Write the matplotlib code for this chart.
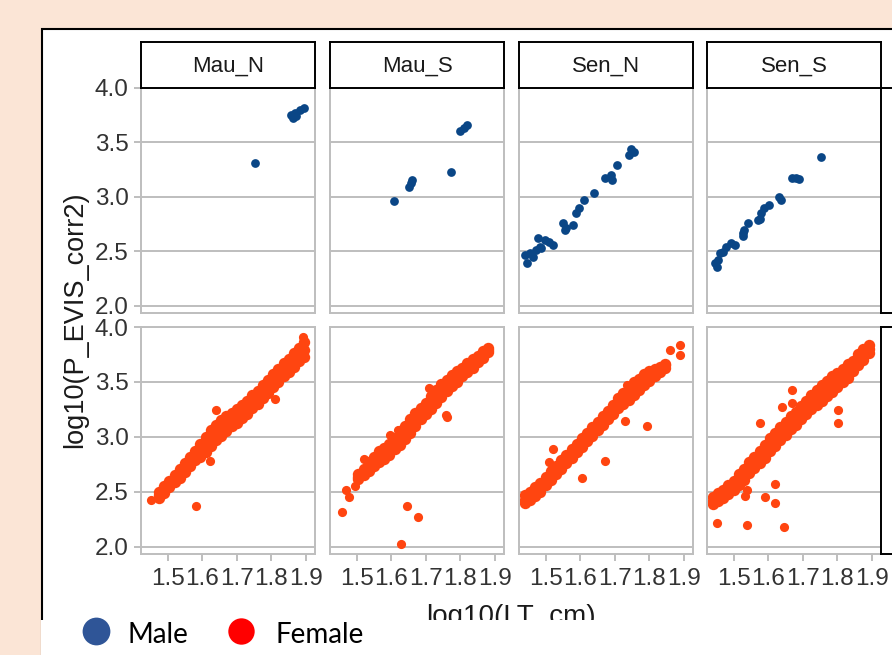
import matplotlib
matplotlib.use('Agg')
import matplotlib.pyplot as plt
from matplotlib.patches import Rectangle
from matplotlib.lines import Line2D

# facet labels
sites = ['Mau_N', 'Mau_S', 'Sen_N', 'Sen_S']
sexes = ['Male', 'Female']
x_ticks = [1.5, 1.6, 1.7, 1.8, 1.9]
y_ticks = [2.0, 2.5, 3.0, 3.5, 4.0]

# ---- males (few fish, read point by point) ----
male_mau_n_x = [1.753, 1.858, 1.863, 1.868, 1.872, 1.882, 1.894]
male_mau_n_y = [3.309, 3.752, 3.722, 3.768, 3.740, 3.798, 3.819]

male_mau_s_x = [1.609, 1.651, 1.656, 1.661, 1.773, 1.799, 1.809, 1.818]
male_mau_s_y = [2.963, 3.094, 3.125, 3.156, 3.232, 3.605, 3.636, 3.660]

male_sen_n_x = [1.447, 1.440, 1.454, 1.464, 1.473, 1.483, 1.478, 1.497, 1.488, 1.521, 1.511, 1.549, 1.559,
                1.578, 1.555, 1.588, 1.597, 1.611, 1.640, 1.673, 1.688, 1.692, 1.707, 1.740, 1.754, 1.748]
male_sen_n_y = [2.392, 2.468, 2.483, 2.452, 2.514, 2.544, 2.621, 2.606, 2.530, 2.560, 2.590, 2.759, 2.713,
                2.743, 2.700, 2.850, 2.896, 2.972, 3.034, 3.171, 3.202, 3.156, 3.294, 3.385, 3.416, 3.437]

male_sen_s_x = [1.451, 1.446, 1.455, 1.460, 1.469, 1.479, 1.493, 1.503, 1.527, 1.531, 1.541, 1.527,
                1.569, 1.579, 1.589, 1.603, 1.631, 1.636, 1.669, 1.689, 1.753, 1.575, 1.680]
male_sen_s_y = [2.361, 2.392, 2.422, 2.483, 2.498, 2.544, 2.575, 2.560, 2.667, 2.697, 2.759, 2.640,
                2.789, 2.850, 2.896, 2.927, 3.003, 2.972, 3.171, 3.162, 3.370, 2.800, 3.170]

# ---- females: dense band read as lower edge / middle / upper edge, plus stray fish ----
fem_mau_n_x = [1.475, 1.49, 1.505, 1.52, 1.535, 1.55, 1.565, 1.58, 1.595, 1.61, 1.625, 1.64, 1.655, 1.67, 1.685,
               1.70, 1.715, 1.73, 1.745, 1.76, 1.775, 1.79, 1.805, 1.82, 1.835, 1.85, 1.865, 1.88, 1.895]
fem_mau_n_lo = [2.44, 2.49, 2.54, 2.59, 2.63, 2.68, 2.74, 2.79, 2.82, 2.86, 2.92, 2.97, 3.01, 3.05, 3.10,
                3.13, 3.17, 3.21, 3.26, 3.30, 3.35, 3.40, 3.45, 3.50, 3.55, 3.59, 3.64, 3.69, 3.73]
fem_mau_n_mid = [2.47, 2.52, 2.57, 2.62, 2.67, 2.72, 2.78, 2.83, 2.88, 2.93, 2.99, 3.04, 3.08, 3.12, 3.16,
                 3.19, 3.23, 3.27, 3.32, 3.36, 3.41, 3.46, 3.51, 3.56, 3.61, 3.65, 3.70, 3.75, 3.79]
fem_mau_n_hi = [2.50, 2.55, 2.60, 2.65, 2.71, 2.76, 2.82, 2.87, 2.94, 3.00, 3.06, 3.11, 3.15, 3.19, 3.22,
                3.25, 3.29, 3.33, 3.38, 3.42, 3.47, 3.52, 3.57, 3.62, 3.67, 3.71, 3.76, 3.81, 3.86]
fem_mau_n_out_x = [1.451, 1.583, 1.640, 1.809, 1.623, 1.890]
fem_mau_n_out_y = [2.428, 2.373, 3.248, 3.346, 2.780, 3.910]

fem_mau_s_x = [1.505, 1.52, 1.535, 1.55, 1.565, 1.58, 1.595, 1.61, 1.625, 1.64, 1.655, 1.67, 1.685,
               1.70, 1.715, 1.73, 1.745, 1.76, 1.775, 1.79, 1.805, 1.82, 1.835, 1.85, 1.865, 1.88]
fem_mau_s_lo = [2.62, 2.65, 2.69, 2.74, 2.77, 2.80, 2.84, 2.89, 2.93, 2.98, 3.04, 3.10, 3.16,
                3.21, 3.25, 3.31, 3.36, 3.42, 3.46, 3.50, 3.55, 3.59, 3.63, 3.68, 3.72, 3.77]
fem_mau_s_mid = [2.64, 2.68, 2.73, 2.78, 2.82, 2.85, 2.89, 2.94, 2.99, 3.04, 3.10, 3.16, 3.21,
                 3.26, 3.31, 3.37, 3.42, 3.47, 3.51, 3.55, 3.59, 3.63, 3.67, 3.71, 3.75, 3.79]
fem_mau_s_hi = [2.66, 2.71, 2.77, 2.82, 2.87, 2.90, 2.94, 2.99, 3.05, 3.10, 3.16, 3.22, 3.26,
                3.31, 3.37, 3.43, 3.48, 3.52, 3.56, 3.60, 3.63, 3.67, 3.71, 3.74, 3.78, 3.81]
fem_mau_s_out_x = [1.458, 1.468, 1.477, 1.496, 1.520, 1.596, 1.647, 1.677, 1.628, 1.709, 1.758, 1.761, 1.620]
fem_mau_s_out_y = [2.321, 2.520, 2.453, 2.550, 2.800, 3.015, 2.373, 2.275, 2.024, 3.446, 3.199, 3.177, 3.061]

fem_sen_n_x = [1.44, 1.455, 1.47, 1.485, 1.50, 1.515, 1.53, 1.545, 1.56, 1.575, 1.59, 1.605, 1.62, 1.635,
               1.65, 1.665, 1.68, 1.695, 1.71, 1.725, 1.74, 1.755, 1.77, 1.785, 1.80, 1.815, 1.83, 1.845]
fem_sen_n_lo = [2.40, 2.43, 2.46, 2.50, 2.56, 2.61, 2.66, 2.71, 2.76, 2.81, 2.86, 2.91, 2.96, 3.01,
                3.06, 3.11, 3.16, 3.21, 3.26, 3.30, 3.34, 3.38, 3.43, 3.47, 3.51, 3.55, 3.59, 3.63]
fem_sen_n_mid = [2.43, 2.46, 2.50, 2.54, 2.60, 2.65, 2.70, 2.75, 2.80, 2.85, 2.90, 2.95, 3.00, 3.05,
                 3.10, 3.15, 3.20, 3.25, 3.30, 3.35, 3.39, 3.44, 3.48, 3.52, 3.56, 3.59, 3.62, 3.65]
fem_sen_n_hi = [2.47, 2.50, 2.54, 2.58, 2.64, 2.69, 2.74, 2.79, 2.84, 2.89, 2.94, 2.99, 3.04, 3.09,
                3.14, 3.19, 3.24, 3.29, 3.35, 3.40, 3.45, 3.50, 3.53, 3.57, 3.60, 3.62, 3.64, 3.66]
fem_sen_n_out_x = [1.520, 1.510, 1.604, 1.672, 1.730, 1.793, 1.860, 1.887, 1.887, 1.734]
fem_sen_n_out_y = [2.887, 2.770, 2.627, 2.780, 3.147, 3.095, 3.789, 3.835, 3.743, 3.468]

fem_sen_s_x = [1.44, 1.455, 1.47, 1.485, 1.50, 1.515, 1.53, 1.545, 1.56, 1.575, 1.59, 1.605, 1.62, 1.635, 1.65,
               1.665, 1.68, 1.695, 1.71, 1.725, 1.74, 1.755, 1.77, 1.785, 1.80, 1.815, 1.83, 1.845, 1.86, 1.875, 1.89]
fem_sen_s_lo = [2.39, 2.42, 2.44, 2.48, 2.52, 2.56, 2.61, 2.67, 2.72, 2.76, 2.81, 2.87, 2.92, 2.97, 3.02,
                3.07, 3.11, 3.16, 3.21, 3.25, 3.29, 3.33, 3.37, 3.41, 3.45, 3.50, 3.54, 3.60, 3.65, 3.70, 3.76]
fem_sen_s_mid = [2.42, 2.45, 2.48, 2.52, 2.56, 2.61, 2.66, 2.72, 2.77, 2.81, 2.87, 2.93, 2.98, 3.03, 3.08,
                 3.13, 3.17, 3.22, 3.27, 3.31, 3.36, 3.40, 3.44, 3.48, 3.51, 3.56, 3.60, 3.645, 3.70, 3.75, 3.80]
fem_sen_s_hi = [2.45, 2.49, 2.52, 2.56, 2.60, 2.66, 2.71, 2.77, 2.82, 2.87, 2.93, 2.99, 3.04, 3.09, 3.14,
                3.19, 3.23, 3.28, 3.33, 3.38, 3.43, 3.47, 3.51, 3.55, 3.58, 3.62, 3.66, 3.69, 3.75, 3.80, 3.84]
fem_sen_s_out_x = [1.451, 1.539, 1.646, 1.532, 1.590, 1.620, 1.620, 1.577, 1.670, 1.670, 1.639, 1.803, 1.803, 1.539]
fem_sen_s_out_y = [2.220, 2.199, 2.183, 2.459, 2.453, 2.398, 2.575, 3.131, 3.428, 3.309, 3.269, 3.248, 3.131, 2.520]

male_pts = {
    'Mau_N': (male_mau_n_x, male_mau_n_y),
    'Mau_S': (male_mau_s_x, male_mau_s_y),
    'Sen_N': (male_sen_n_x, male_sen_n_y),
    'Sen_S': (male_sen_s_x, male_sen_s_y),
}
fem_band = {
    'Mau_N': (fem_mau_n_x, fem_mau_n_lo, fem_mau_n_mid, fem_mau_n_hi),
    'Mau_S': (fem_mau_s_x, fem_mau_s_lo, fem_mau_s_mid, fem_mau_s_hi),
    'Sen_N': (fem_sen_n_x, fem_sen_n_lo, fem_sen_n_mid, fem_sen_n_hi),
    'Sen_S': (fem_sen_s_x, fem_sen_s_lo, fem_sen_s_mid, fem_sen_s_hi),
}
fem_out = {
    'Mau_N': (fem_mau_n_out_x, fem_mau_n_out_y),
    'Mau_S': (fem_mau_s_out_x, fem_mau_s_out_y),
    'Sen_N': (fem_sen_n_out_x, fem_sen_n_out_y),
    'Sen_S': (fem_sen_s_out_x, fem_sen_s_out_y),
}

W, H = 892, 655
BLUE = '#0A4686'
ORANGE = '#FF4510'
GRID = '#BEBEBE'
TXT = '#333333'

plt.rcParams['font.family'] = ['Liberation Sans', 'DejaVu Sans']

fig = plt.figure(figsize=(W / 100, H / 100), dpi=100, facecolor='#FBE5D6')


def box(left, top, w, h):
    """pixel box (from top-left) -> figure fraction rect"""
    return [left / W, 1 - (top + h) / H, w / W, h / H]


# white plot card with black frame (runs off the right and bottom edge)
fig.add_artist(Rectangle((42 / W, 1 - 700 / H), 900 / W, (700 - 29) / H, transform=fig.transFigure,
                         facecolor='white', edgecolor='black', lw=1.5, zorder=-1))

col_left = [141, 330, 519, 707]
row_top = [88, 327]
row_h = [225, 227]
pw = 174

for r, sex in enumerate(sexes):
    for c, site in enumerate(sites):
        ax = fig.add_axes(box(col_left[c], row_top[r], pw, row_h[r]))
        ax.set_facecolor('white')
        ax.set_xlim(1.423, 1.926)
        ax.set_ylim(1.935, 4.0)
        ax.set_xticks(x_ticks)
        ax.set_yticks(y_ticks)
        ax.set_xticklabels([str(t) for t in x_ticks])
        ax.set_yticklabels(['%.1f' % t for t in y_ticks])
        ax.grid(axis='y', color=GRID, lw=1.4)
        ax.set_axisbelow(True)
        for s in ax.spines.values():
            s.set_color(GRID)
            s.set_linewidth(1.4)
        ax.tick_params(color=GRID, width=1.4, length=5, labelcolor=TXT, labelsize=17.5)
        ax.tick_params(axis='y', pad=4)
        ax.tick_params(axis='x', pad=5)
        if c > 0:
            ax.tick_params(axis='y', left=False, labelleft=False)
        if r == 0:
            ax.tick_params(axis='x', bottom=False, labelbottom=False)

        if sex == 'Male':
            mx, my = male_pts[site]
            ax.plot(mx, my, 'o', ms=6.3, mew=0, color=BLUE)
        else:
            bx, lo, mid, hi = fem_band[site]
            ax.plot(bx + bx + bx, lo + mid + hi, 'o', ms=8.2, mew=0, color=ORANGE)
            ox, oy = fem_out[site]
            ax.plot(ox, oy, 'o', ms=6.6, mew=0, color=ORANGE)

# column strips
for c, site in enumerate(sites):
    st = fig.add_axes(box(col_left[c], 42, pw, 46))
    st.set_xticks([])
    st.set_yticks([])
    for s in st.spines.values():
        s.set_color('black')
        s.set_linewidth(1.4)
    st.text(0.5, 0.47, site, ha='center', va='center', fontsize=16, color='#1A1A1A', transform=st.transAxes)

# row strips (cut off by the right edge, as in the original)
for r, sex in enumerate(sexes):
    st = fig.add_axes(box(881, row_top[r], 46, row_h[r]))
    st.set_xticks([])
    st.set_yticks([])
    for s in st.spines.values():
        s.set_color('black')
        s.set_linewidth(1.4)
    st.text(0.42, 0.5, sex, ha='center', va='center', rotation=-90, fontsize=16, color='#1A1A1A',
            transform=st.transAxes)

fig.text(75 / W, 1 - 320 / H, 'log10(P_EVIS_corr2)', rotation=90, ha='center', va='center',
         fontsize=19.5, color='#1A1A1A')
fig.text(511 / W, 1 - 624 / H, 'log10(LT_cm)', ha='center', va='baseline', fontsize=20,
         color='#1A1A1A', zorder=3)

# pasted legend strip at the bottom
fig.add_artist(Rectangle((41 / W, 0), (W - 41) / W, 35 / H, transform=fig.transFigure,
                         facecolor='white', edgecolor='none', zorder=5))
fig.add_artist(Line2D([95.5 / W], [1 - 630.5 / H], marker='o', ms=20, mew=0, color='#2F5597',
                      transform=fig.transFigure, zorder=6))
fig.add_artist(Line2D([241 / W], [1 - 630.5 / H], marker='o', ms=19, mew=0, color='#FF0000',
                      transform=fig.transFigure, zorder=6))
fig.text(128 / W, 1 - 643 / H, 'Male', va='baseline', fontsize=20, color='black',
         family=['Lato', 'DejaVu Sans'], zorder=6)
fig.text(275 / W, 1 - 643 / H, 'Female', va='baseline', fontsize=20, color='black',
         family=['Lato', 'DejaVu Sans'], zorder=6)

fig.savefig('out.png', dpi=100, facecolor=fig.get_facecolor())
